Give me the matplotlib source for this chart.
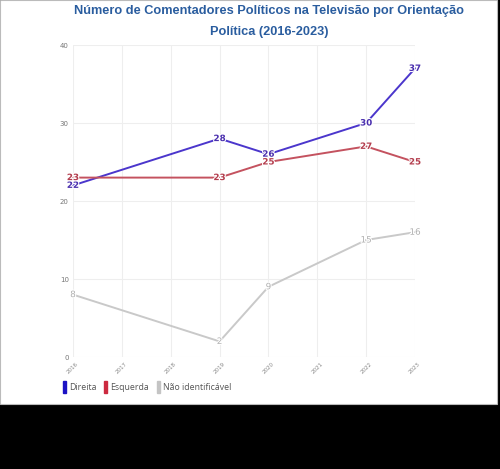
import matplotlib
matplotlib.use("Agg")
import matplotlib.pyplot as plt
from matplotlib.patches import Rectangle, Patch
import matplotlib.patheffects as pe

years = [2016, 2019, 2020, 2022, 2023]
direita = [22, 28, 26, 30, 37]
esquerda = [23, 23, 25, 27, 25]
nao_ident = [8, 2, 9, 15, 16]
series_names = ["Direita", "Esquerda", "Não identificável"]
x_ticks = [2016, 2017, 2018, 2019, 2020, 2021, 2022, 2023]
y_ticks = [0, 10, 20, 30, 40]

line_colors = ["#4b36cc", "#c4525f", "#c9c9c9"]
label_colors = ["#4a2fae", "#b33d4d", "#b0b0b0"]
legend_colors = ["#1c12c4", "#cc2a40", "#c4c4c4"]

fig = plt.figure(figsize=(5, 4.69), dpi=100)
fig.patch.set_facecolor("black")
fig.patches.append(Rectangle((0, 1 - 404 / 469), 497 / 500, 404 / 469,
                             transform=fig.transFigure, facecolor="white",
                             edgecolor="#bbbbbb", linewidth=0.8, zorder=0))

ax = fig.add_axes([73 / 500, 1 - 357 / 469, (415 - 73) / 500, (357 - 45) / 469])
ax.set_zorder(2)
ax.set_facecolor("white")
ax.set_xlim(2016, 2023)
ax.set_ylim(0, 40)
ax.set_xticks(x_ticks)
ax.set_xticklabels([str(t) for t in x_ticks], rotation=45, fontsize=4, color="#888888")
ax.set_yticks(y_ticks)
ax.set_yticklabels([str(t) for t in y_ticks], fontsize=5, color="#777777")
ax.tick_params(length=0, pad=3)
ax.grid(True, color="#eeeeee", linewidth=0.8)
ax.set_axisbelow(True)
for s in ax.spines.values():
    s.set_visible(False)

all_series = [direita, esquerda, nao_ident]
for vals, lc, tc, i in zip(all_series, line_colors, label_colors, range(3)):
    ax.plot(years, vals, color=lc, linewidth=1.4, clip_on=False, zorder=3)
    for x, v in zip(years, vals):
        ax.text(x, v, str(v), ha="center", va="center", fontsize=6.3,
                fontweight="bold" if i < 2 else "normal", color=tc, zorder=4,
                path_effects=[pe.withStroke(linewidth=1.5, foreground="white")])

fig.text(269 / 500, 1 - 11 / 469,
         "Número de Comentadores Políticos na Televisão por Orientação",
         ha="center", va="center", fontsize=9.2, fontweight="bold",
         color="#2a5d9f", family="Liberation Sans", zorder=3)
fig.text(269 / 500, 1 - 32 / 469, "Política (2016-2023)",
         ha="center", va="center", fontsize=9.2, fontweight="bold",
         color="#2a5d9f", family="Liberation Sans", zorder=3)

handles = [Patch(facecolor=c, edgecolor=c) for c in legend_colors]
leg = fig.legend(handles, series_names, loc="center left",
                 bbox_to_anchor=(59 / 500, 1 - 387 / 469), ncol=3, frameon=False,
                 prop={"family": "Open Sans", "size": 6.3},
                 handlelength=0.35, handleheight=1.9,
                 handletextpad=0.35, columnspacing=0.9, borderaxespad=0)
leg.set_zorder(3)
for t in leg.get_texts():
    t.set_color("#555555")

fig.savefig("out.png", dpi=100, facecolor=fig.get_facecolor())
